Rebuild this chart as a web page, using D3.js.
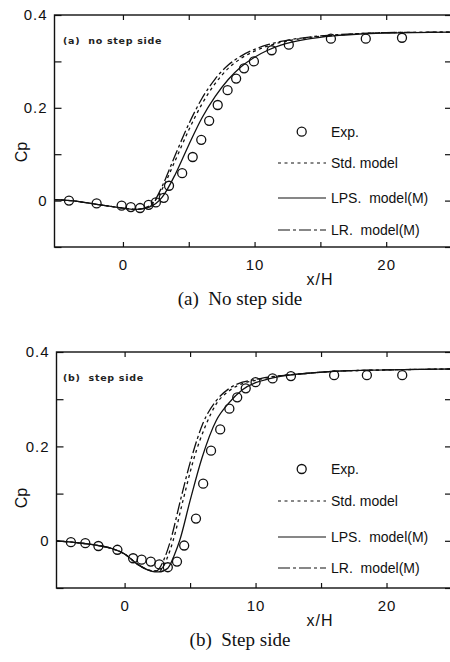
<!DOCTYPE html>
<html>
<head>
<meta charset="utf-8">
<script src="https://cdn.jsdelivr.net/npm/d3@7"></script>
<style>
  body { margin: 0; background: #fff; }
  svg { display: block; }
</style>
</head>
<body>
<div id="chart"></div>
<script>
var width = 450, height = 662;

// x/H ticks and Cp ticks
var xTicks = [0, 5, 10, 15, 20, 25];
var yTicks = [-0.1, 0, 0.1, 0.2, 0.3, 0.4];

// (a) no step side
var expA = [[-4.1, 0.0], [-2.0, -0.006], [-0.1, -0.011], [0.6, -0.014], [1.3, -0.016], [1.95, -0.009],
  [2.5, -0.004], [3.1, 0.006], [3.5, 0.032], [4.5, 0.059], [5.3, 0.094], [5.95, 0.131], [6.55, 0.172],
  [7.2, 0.206], [7.95, 0.238], [8.6, 0.263], [9.2, 0.285], [9.95, 0.300], [11.3, 0.324], [12.6, 0.336],
  [15.8, 0.349], [18.45, 0.349], [21.2, 0.351]];
var stdA = [[-5.2, 0.002], [-4, 0.0], [-2, -0.008], [0, -0.016], [1, -0.019], [2, -0.013], [2.5, 0.002],
  [3, 0.026], [4, 0.088], [5, 0.152], [6, 0.208], [7, 0.252], [8, 0.285], [9, 0.307], [10, 0.322],
  [11, 0.333], [12, 0.341], [14, 0.351], [16, 0.356], [18, 0.36], [20, 0.362], [25, 0.363]];
var lpsA = [[-5.2, 0.002], [-4, 0.0], [-2, -0.008], [0, -0.016], [1, -0.019], [2, -0.014], [3, 0.008],
  [4, 0.058], [5, 0.12], [6, 0.178], [7, 0.224], [8, 0.261], [9, 0.289], [10, 0.309], [11, 0.324],
  [12, 0.335], [14, 0.348], [16, 0.355], [18, 0.359], [20, 0.361], [25, 0.363]];
var lrA = [[-5.2, 0.002], [-4, 0.0], [-2, -0.008], [0, -0.016], [1, -0.019], [2, -0.012], [2.5, 0.004],
  [3, 0.032], [4, 0.1], [5, 0.165], [6, 0.22], [7, 0.262], [8, 0.292], [9, 0.312], [10, 0.326],
  [11, 0.336], [12, 0.343], [14, 0.352], [16, 0.357], [18, 0.36], [20, 0.362], [25, 0.363]];

// (b) step side
var expB = [[-4.1, -0.003], [-3.0, -0.005], [-2.0, -0.011], [-0.55, -0.019], [0.65, -0.037], [1.3, -0.040],
  [2.0, -0.044], [2.65, -0.050], [3.3, -0.056], [4.0, -0.044], [4.55, -0.010], [5.45, 0.047], [6.0, 0.121],
  [6.6, 0.191], [7.3, 0.236], [8.0, 0.280], [8.6, 0.304], [9.25, 0.323], [10.0, 0.336], [11.3, 0.344],
  [12.7, 0.349], [16.0, 0.351], [18.5, 0.351], [21.2, 0.351]];
var stdB = [[-5.2, 0.0], [-4, -0.003], [-2, -0.01], [-1, -0.016], [0, -0.028], [1, -0.05], [2, -0.063],
  [2.6, -0.064], [3.2, -0.04], [3.7, 0.0], [4.5, 0.09], [5.3, 0.175], [6.2, 0.245], [7, 0.29], [8, 0.318],
  [9, 0.333], [10, 0.34], [11, 0.346], [12, 0.35], [14, 0.355], [16, 0.359], [20, 0.362], [25, 0.364]];
var lpsB = [[-5.2, 0.0], [-4, -0.003], [-2, -0.01], [-1, -0.016], [0, -0.028], [1, -0.05], [2, -0.064],
  [2.6, -0.066], [3.3, -0.058], [3.8, -0.03], [4.2, 0.0], [5, 0.085], [5.9, 0.175], [7, 0.255],
  [7.9, 0.29], [9, 0.32], [10, 0.335], [11, 0.343], [12, 0.349], [14, 0.355], [16, 0.359], [20, 0.362], [25, 0.364]];
var lrB = [[-5.2, 0.0], [-4, -0.003], [-2, -0.01], [-1, -0.016], [0, -0.028], [1, -0.05], [2, -0.063],
  [2.4, -0.064], [3.0, -0.04], [3.5, 0.0], [4.3, 0.09], [5.1, 0.175], [6, 0.25], [7, 0.297], [8, 0.323],
  [9, 0.336], [10, 0.342], [11, 0.347], [12, 0.35], [14, 0.355], [16, 0.359], [20, 0.362], [25, 0.364]];

var legendLabels = ["Exp.", "Std. model", "LPS.  model(M)", "LR.  model(M)"];
var lineDash = [null, "3,3.5", null, "12,3,3,3"];

var svg = d3.select("#chart").append("svg")
  .attr("width", width)
  .attr("height", height);

/**
 * draws one Cp panel
 */
function drawPanel(p) {
  var xScale = d3.scaleLinear().domain([-5.2, 25]).range([p.left, 452]);
  var yScale = d3.scaleLinear().domain([-0.1, 0.4]).range([p.bottom, p.top]);
  var g = svg.append("g");

  var fmtX = function(d) { return d % 10 === 0 && d < 25 ? d : ""; };
  var fmtY = function(d) { return Math.round(d * 10) % 2 === 0 && d >= 0 ? (d === 0 ? "0" : d3.format(".1f")(d)) : ""; };

  // ticks inward on all sides
  var axes = [
    {a: d3.axisBottom(xScale).tickValues(xTicks).tickFormat(fmtX), t: "translate(0," + p.bottom + ")"},
    {a: d3.axisTop(xScale).tickValues(xTicks).tickFormat(""), t: "translate(0," + p.top + ")"},
    {a: d3.axisLeft(yScale).tickValues(yTicks).tickFormat(fmtY), t: "translate(" + p.left + ",0)"},
    {a: d3.axisRight(yScale).tickValues(yTicks).tickFormat(""), t: "translate(452,0)"}
  ];
  axes.forEach(function(ax, i) {
    var sel = g.append("g")
      .attr("transform", ax.t)
      .call(ax.a.tickSizeInner(i < 2 ? -5 : -7).tickSizeOuter(0).tickPadding(i < 2 ? 12 : 7));
    sel.select(".domain").remove();
    sel.selectAll("line").attr("stroke", "#111").attr("stroke-width", 1.2);
    sel.selectAll("text")
      .style("font-family", "Liberation Sans, Arial, sans-serif")
      .style("font-size", "15px")
      .style("letter-spacing", "1px")
      .attr("fill", "#111");
  });

  // frame
  g.append("rect")
    .attr("x", p.left)
    .attr("y", p.top)
    .attr("width", 452 - p.left)
    .attr("height", p.bottom - p.top)
    .attr("fill", "none")
    .attr("stroke", "#111")
    .attr("stroke-width", 1.4);

  var line = d3.line()
    .x(function(d) { return xScale(d[0]); })
    .y(function(d) { return yScale(d[1]); })
    .curve(d3.curveMonotoneX);

  [p.std, p.lps, p.lr].forEach(function(s, i) {
    g.append("path")
      .attr("d", line(s))
      .attr("fill", "none")
      .attr("stroke", "#111")
      .attr("stroke-width", 1.3)
      .attr("stroke-dasharray", lineDash[i + 1]);
  });

  g.selectAll("circle.exp")
    .data(p.exp)
    .enter().append("circle")
    .attr("class", "exp")
    .attr("cx", function(d) { return xScale(d[0]); })
    .attr("cy", function(d) { return yScale(d[1]); })
    .attr("r", 4.5)
    .attr("fill", "none")
    .attr("stroke", "#111")
    .attr("stroke-width", 1.3);

  // panel tag
  g.append("text")
    .text(p.tag)
    .attr("x", 63)
    .attr("y", p.top + 29)
    .style("font-family", "DejaVu Sans, sans-serif")
    .style("font-size", "9.5px")
    .style("font-weight", 700)
    .style("letter-spacing", "0.7px")
    .style("white-space", "pre")
    .attr("fill", "#222");

  // legend
  p.legY.forEach(function(ly, i) {
    if (i === 0) {
      g.append("circle")
        .attr("cx", 301.7).attr("cy", ly).attr("r", 4.5)
        .attr("fill", "none").attr("stroke", "#111").attr("stroke-width", 1.3);
    } else {
      g.append("line")
        .attr("x1", 278).attr("x2", 326)
        .attr("y1", ly).attr("y2", ly)
        .attr("stroke", "#111").attr("stroke-width", 1.2)
        .attr("stroke-dasharray", lineDash[i]);
    }
    g.append("text")
      .text(legendLabels[i])
      .attr("x", 331)
      .attr("y", ly + 5)
      .style("font-family", "Liberation Sans, Arial, sans-serif")
      .style("font-size", "14px")
      .style("white-space", "pre")
      .attr("fill", "#111");
  });

  // axis titles
  g.append("text")
    .text("Cp")
    .attr("transform", "translate(27," + p.cpY + ") rotate(-90)")
    .attr("text-anchor", "middle")
    .style("font-family", "Liberation Sans, Arial, sans-serif")
    .style("font-size", "16px")
    .attr("fill", "#111");

  g.append("text")
    .text("x/H")
    .attr("x", 320)
    .attr("y", p.bottom + 38)
    .attr("text-anchor", "middle")
    .style("font-family", "Liberation Sans, Arial, sans-serif")
    .style("font-size", "16px")
    .style("letter-spacing", "1px")
    .attr("fill", "#111");

  g.append("text")
    .text(p.caption)
    .attr("x", 240)
    .attr("y", p.bottom + 58)
    .attr("text-anchor", "middle")
    .style("font-family", "Liberation Serif, Times New Roman, serif")
    .style("font-size", "19px")
    .style("white-space", "pre")
    .attr("fill", "#111");
}

drawPanel({
  top: 15, bottom: 247, left: 54.5,
  exp: expA, std: stdA, lps: lpsA, lr: lrA,
  tag: "(a)  no step side",
  legY: [131.7, 163, 198, 230],
  cpY: 152,
  caption: "(a)  No step side"
});

drawPanel({
  top: 352, bottom: 588, left: 56.5,
  exp: expB, std: stdB, lps: lpsB, lr: lrB,
  tag: "(b)  step side",
  legY: [469, 501, 537, 568],
  cpY: 498,
  caption: "(b)  Step side"
});
</script>
</body>
</html>
